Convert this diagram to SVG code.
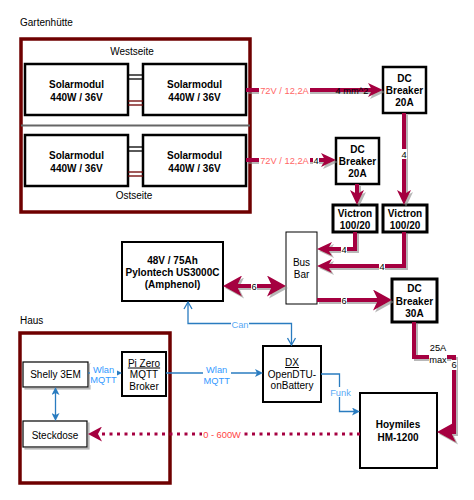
<svg xmlns="http://www.w3.org/2000/svg" width="474" height="500" viewBox="0 0 474 500">
<style>
text{font-family:"Liberation Sans",Arial,sans-serif;font-size:10px;fill:#000;text-anchor:middle}
.b{font-weight:bold}
.t{text-anchor:start}
.lbl{font-size:9.3px}
.red{fill:#ff6666}
.red2{fill:#ff4444}
.blu{fill:#3399ff}
.blu2{fill:#5aaaf5}
.box{fill:#fff;stroke:#000}
.area{fill:#fff;stroke:#6f0000;stroke-width:3.5}
.rc{fill:none;stroke:#a50040;stroke-width:4}
.bc{fill:none;stroke:#2a7cc0;stroke-width:1.3}
.bg{fill:#fff}
</style>
<defs>
<filter id="sh" x="-20%" y="-20%" width="140%" height="140%"><feDropShadow dx="2" dy="2" stdDeviation="0.3" flood-color="#888" flood-opacity="0.6"/></filter>
<marker id="ra" markerUnits="userSpaceOnUse" markerWidth="15" markerHeight="14" viewBox="0 0 15 14" refX="4" refY="7" orient="auto"><path d="M0,0 L15,7 L0,14 L4,7 Z" fill="#a50040"/></marker>
<marker id="rb" markerUnits="userSpaceOnUse" markerWidth="19" markerHeight="21" viewBox="0 0 19 21" refX="5" refY="10.5" orient="auto-start-reverse"><path d="M0,0 L19,10.5 L0,21 L5,10.5 Z" fill="#a50040"/></marker>
<marker id="rd" markerUnits="userSpaceOnUse" markerWidth="14" markerHeight="15" viewBox="0 0 14 15" refX="4" refY="7.5" orient="auto"><path d="M0,0 L14,7.5 L0,15 L4,7.5 Z" fill="#a50040"/></marker>
<marker id="ba" markerUnits="userSpaceOnUse" markerWidth="8" markerHeight="8" viewBox="0 0 8 8" refX="2" refY="4" orient="auto-start-reverse"><path d="M0,0 L8,4 L0,8 L2,4 Z" fill="#2a7cc0"/></marker>
<marker id="bo" markerUnits="userSpaceOnUse" markerWidth="10" markerHeight="10" viewBox="-1 -1 10 10" refX="7" refY="4" orient="auto-start-reverse"><path d="M0,0 L7,4 L0,8" fill="none" stroke="#2a7cc0" stroke-width="1.3"/></marker>
</defs>
<rect width="474" height="500" fill="#fff"/>

<g id="gartenhuette">
<text class="t" x="20" y="26">Gartenhütte</text>
<rect class="area" x="21" y="39" width="229" height="173"/>
<text x="132" y="55">Westseite</text>
<line x1="21" y1="125.5" x2="250" y2="125.5" stroke="#666" stroke-width="2"/>
<text x="134" y="199">Ostseite</text>
</g>

<g id="modul-links">
<g id="modul1"><rect class="box" x="25" y="64" width="103" height="51" stroke-width="2.5"/><text class="b" x="76.5" y="88">Solarmodul</text><text class="b" x="76.5" y="100.5">440W / 36V</text></g>
<g id="modul2"><rect class="box" x="143" y="64" width="103" height="51" stroke-width="2.5"/><text class="b" x="194.5" y="88">Solarmodul</text><text class="b" x="194.5" y="100.5">440W / 36V</text></g>
<g id="modul3"><rect class="box" x="25" y="135" width="103" height="51" stroke-width="2.5"/><text class="b" x="76.5" y="159">Solarmodul</text><text class="b" x="76.5" y="171.5">440W / 36V</text></g>
<g id="modul4"><rect class="box" x="143" y="135" width="103" height="51" stroke-width="2.5"/><text class="b" x="194.5" y="159">Solarmodul</text><text class="b" x="194.5" y="171.5">440W / 36V</text></g>
</g>

<g id="dc-breaker-1"><rect class="box" x="383" y="67" width="43" height="46" stroke-width="2.5"/><text class="b" x="404.5" y="81.5">DC</text><text class="b" x="404.5" y="94">Breaker</text><text class="b" x="404.5" y="106">20A</text></g>
<g id="dc-breaker-2"><rect class="box" x="336" y="138" width="43" height="46" stroke-width="2.5"/><text class="b" x="357.5" y="152.5">DC</text><text class="b" x="357.5" y="165">Breaker</text><text class="b" x="357.5" y="177">20A</text></g>
<g id="victron-1"><rect class="box" x="333" y="205" width="44" height="27" stroke-width="3"/><text class="b" x="355" y="216.5">Victron</text><text class="b" x="355" y="228.5">100/20</text></g>
<g id="victron-2"><rect class="box" x="383" y="205" width="44" height="27" stroke-width="3"/><text class="b" x="405" y="216.5">Victron</text><text class="b" x="405" y="228.5">100/20</text></g>
<g id="bus-bar"><rect class="box" x="286" y="232" width="31" height="72" stroke-width="1"/><text x="301.5" y="266">Bus</text><text x="301.5" y="278">Bar</text></g>
<g id="batterie"><rect class="box" x="122" y="242" width="101" height="59" stroke-width="2"/><text class="b" x="172.5" y="264">48V / 75Ah</text><text class="b" x="172.5" y="276">Pylontech US3000C</text><text class="b" x="172.5" y="288">(Amphenol)</text></g>
<g id="dc-breaker-3"><rect class="box" x="392" y="279" width="45" height="43" stroke-width="3"/><text class="b" x="414.5" y="292">DC</text><text class="b" x="414.5" y="304.5">Breaker</text><text class="b" x="414.5" y="316.5">30A</text></g>
<g id="hoymiles"><rect class="box" x="360" y="393" width="77" height="75" stroke-width="2"/><text class="b" x="398" y="428">Hoymiles</text><text class="b" x="398" y="441">HM-1200</text></g>

<g id="haus">
<text class="t" x="20" y="324">Haus</text>
<rect class="area" x="20" y="333" width="150" height="150"/>
</g>
<g id="shelly"><rect class="box" x="23" y="362" width="65" height="25" stroke-width="1.2" filter="url(#sh)"/><text x="55.5" y="378">Shelly 3EM</text></g>
<g id="steckdose"><rect class="box" x="23" y="421" width="64" height="26" stroke-width="1.2" filter="url(#sh)"/><text x="55" y="439">Steckdose</text></g>
<g id="pi-zero"><rect class="box" x="122" y="352" width="44" height="44" stroke-width="2"/><text x="144" y="366.5" text-decoration="underline">Pi Zero</text><text x="144" y="377.5">MQTT</text><text x="144" y="389.5">Broker</text></g>
<g id="opendtu"><rect class="box" x="263" y="346" width="58" height="56" stroke-width="2"/><text x="292" y="366" text-decoration="underline">DX</text><text x="292" y="377.5">OpenDTU-</text><text x="292" y="389">onBattery</text></g>

<g id="connectors">
<g id="module-links">
<g stroke="#000" stroke-width="1.3"><line x1="128" y1="75" x2="143" y2="75"/><line x1="128" y1="79" x2="143" y2="79"/><line x1="128" y1="147" x2="143" y2="147"/><line x1="128" y1="151" x2="143" y2="151"/></g>
<g stroke="#6f0000" stroke-width="1.3"><line x1="128" y1="101" x2="143" y2="101"/><line x1="128" y1="105" x2="143" y2="105"/><line x1="128" y1="172" x2="143" y2="172"/><line x1="128" y1="176" x2="143" y2="176"/></g>
</g>
<g id="power" filter="url(#sh)">
<path class="rc" d="M246,90 H372" marker-end="url(#ra)"/>
<path class="rc" d="M246,160 H325" marker-end="url(#ra)"/>
<path class="rc" d="M404,113 V194" marker-end="url(#ra)"/>
<path class="rc" d="M357,184 V194" marker-end="url(#ra)"/>
<path class="rc" d="M355,232 V249 H328" marker-end="url(#ra)"/>
<path class="rc" d="M404,232 V266 H328" marker-end="url(#ra)"/>
<path class="rc" d="M237,286 H272" marker-start="url(#rb)" marker-end="url(#rb)"/>
<path class="rc" d="M317,300 H378" marker-end="url(#rb)"/>
<path class="rc" d="M414,322 V357 H454 V432 H451" marker-end="url(#rb)"/>
</g>
<path id="ac" d="M360,434 H98" fill="none" stroke="#a50040" stroke-width="3" stroke-dasharray="3 4.5" marker-end="url(#rd)"/>
<g id="data">
<path class="bc" d="M88,373 H116" marker-end="url(#ba)"/>
<path class="bc" d="M166,373 H257" marker-end="url(#ba)"/>
<path class="bc" d="M55.5,393 V415" marker-start="url(#ba)" marker-end="url(#ba)"/>
<path class="bc" d="M188,302 V323.5 H291.5 V345" marker-start="url(#bo)" marker-end="url(#bo)"/>
<path class="bc" d="M321,374 H339.5 V411.5 H354" marker-end="url(#ba)"/>
</g>
<g id="labels">
<rect class="bg" x="259" y="85" width="51" height="10"/><text class="lbl red" x="284.5" y="93.5">72V / 12,2A</text>
<text class="lbl" x="352" y="93.5">4 mm^2</text>
<rect class="bg" x="259" y="155" width="51" height="10"/><text class="lbl red" x="284.5" y="163.5">72V / 12,2A</text>
<rect class="bg" x="313" y="155" width="6" height="10"/><text class="lbl" x="316" y="163.5">4</text>
<rect class="bg" x="401" y="149" width="6" height="10"/><text class="lbl" x="404" y="157.5">4</text>
<rect class="bg" x="341" y="244" width="6" height="10"/><text class="lbl" x="344" y="252.5">4</text>
<rect class="bg" x="379" y="261" width="6" height="10"/><text class="lbl" x="382" y="269.5">4</text>
<rect class="bg" x="251" y="281" width="6" height="10"/><text class="lbl" x="254" y="289.5">6</text>
<rect class="bg" x="341" y="295" width="6" height="10"/><text class="lbl" x="344" y="303.5">6</text>
<text class="lbl" x="438" y="351">25A</text>
<rect class="bg" x="429" y="355" width="18" height="9"/><text class="lbl" x="438" y="362.5">max</text>
<rect class="bg" x="451" y="360" width="6" height="10"/><text class="lbl" x="454" y="368">6</text>
<rect class="bg" x="90" y="364" width="27" height="21"/><text class="lbl blu" x="103.5" y="372.5">Wlan</text><text class="lbl blu" x="103.5" y="383.3">MQTT</text>
<rect class="bg" x="203" y="365" width="28" height="21"/><text class="lbl blu" x="216.7" y="373">Wlan</text><text class="lbl blu" x="216.7" y="384">MQTT</text>
<rect class="bg" x="231" y="319" width="18" height="10"/><text class="lbl blu2" x="240" y="327.5">Can</text>
<rect class="bg" x="330" y="387" width="21" height="10"/><text class="lbl blu2" x="340.5" y="395.5">Funk</text>
<rect class="bg" x="202" y="429" width="40" height="10"/><text class="lbl red2" x="222" y="438">0 - 600W</text>
</g>
</g>
</svg>
